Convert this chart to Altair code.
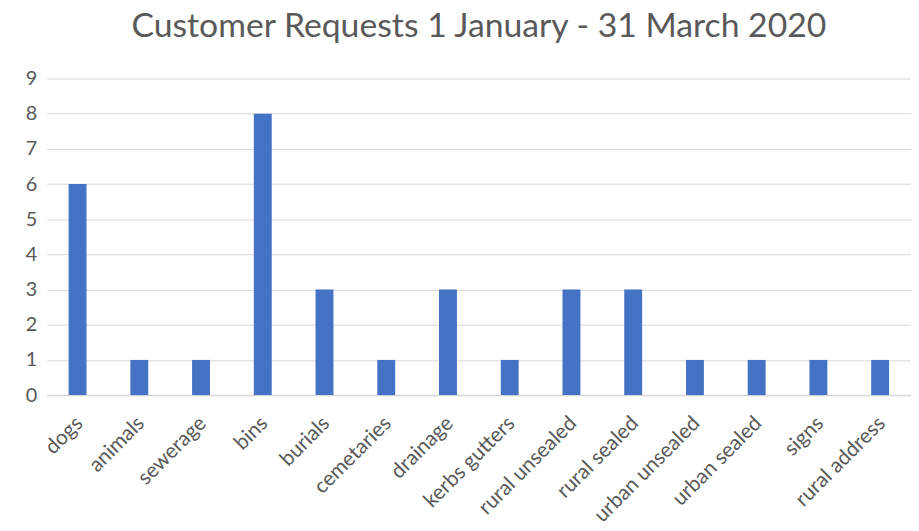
import altair as alt
import pandas as pd

categories = ["dogs", "animals", "sewerage", "bins", "burials", "cemetaries", "drainage",
              "kerbs gutters", "rural unsealed", "rural sealed", "urban unsealed",
              "urban sealed", "signs", "rural address"]
values = [6, 1, 1, 8, 3, 1, 3, 1, 3, 3, 1, 1, 1, 1]
y_ticks = [0, 1, 2, 3, 4, 5, 6, 7, 8, 9]

df = pd.DataFrame({"category": categories, "value": values})

FONT = "Lato"
GREY = "#595959"

chart = alt.Chart(df).mark_bar(color="#4472C4").encode(
    x=alt.X("category:N", sort=categories, title=None,
            scale=alt.Scale(paddingInner=0.71, paddingOuter=0.355),
            axis=alt.Axis(labelAngle=-45, labelAlign="right", labelBaseline="middle",
                          labelFontSize=21, labelColor=GREY, labelFont=FONT,
                          ticks=False, domainColor="#d9d9d9", domainWidth=1.5,
                          labelPadding=25, labelOffset=2, labelOverlap=False, labelLimit=400)),
    y=alt.Y("value:Q", title=None,
            scale=alt.Scale(domain=[0, 9], nice=False),
            axis=alt.Axis(values=y_ticks, labelFontSize=20, labelColor=GREY,
                          labelFont=FONT, ticks=False, domain=False,
                          gridColor="#d9d9d9", gridWidth=1, labelPadding=10)),
).properties(
    width=871, height=319,
    title=alt.TitleParams("Customer Requests 1 January - 31 March 2020", fontSize=34,
                          font=FONT, fontWeight="normal", color=GREY,
                          offset=25, anchor="middle"),
    autosize=alt.AutoSizeParams(type="none"),
    padding={"left": 39, "top": 69, "right": 0, "bottom": 150},
).configure_view(stroke=None)

chart.save("out.html", embed_options={"renderer": "svg", "actions": False})
